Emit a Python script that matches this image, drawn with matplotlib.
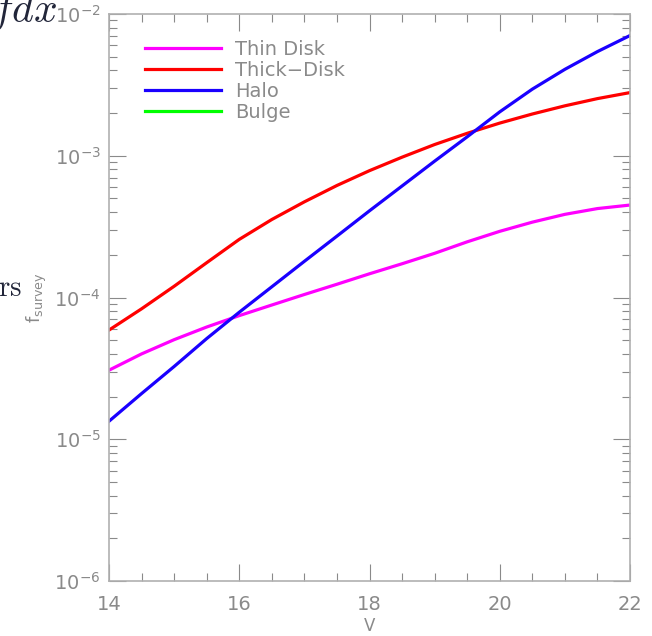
import numpy as np
import matplotlib.pyplot as plt
from matplotlib.ticker import LogLocator, MultipleLocator, NullFormatter

# 星等与各成分的 f_survey（每 0.5 星等取一点）
V = [14.0, 14.5, 15.0, 15.5, 16.0, 16.5, 17.0, 17.5, 18.0,
     18.5, 19.0, 19.5, 20.0, 20.5, 21.0, 21.5, 22.0]
thin_disk = [3.07e-5, 4.0e-5, 5.04e-5, 6.19e-5, 7.45e-5, 8.85e-5, 1.05e-4, 1.24e-4, 1.47e-4,
             1.73e-4, 2.05e-4, 2.47e-4, 2.93e-4, 3.40e-4, 3.86e-4, 4.24e-4, 4.49e-4]
thick_disk = [5.89e-5, 8.32e-5, 1.20e-4, 1.76e-4, 2.57e-4, 3.55e-4, 4.73e-4, 6.17e-4, 7.85e-4,
              9.77e-4, 1.20e-3, 1.44e-3, 1.70e-3, 1.97e-3, 2.25e-3, 2.53e-3, 2.79e-3]
halo = [1.34e-5, 2.1e-5, 3.26e-5, 5.13e-5, 7.87e-5, 1.19e-4, 1.8e-4, 2.71e-4, 4.09e-4,
        6.12e-4, 9.16e-4, 1.36e-3, 2.04e-3, 2.95e-3, 4.07e-3, 5.43e-3, 7.05e-3]
bulge = []  # 该星等范围内无贡献

grey = '#8a8a8a'
plt.rcParams['font.family'] = ['DejaVu Sans']

fig = plt.figure(figsize=(6.52, 6.36), dpi=100)
ax = fig.add_axes([109 / 652, 1 - 581 / 636, (630 - 109) / 652, (581 - 14) / 636])

ax.plot(V, thin_disk, color='#ff00ff', lw=2.3, label='Thin Disk')
ax.plot(V, thick_disk, color='#ff0000', lw=2.3, label='Thick\u2212Disk')
ax.plot(V, halo, color='#1a00ff', lw=2.3, label='Halo')
ax.plot(V[:len(bulge)], bulge, color='#00ff00', lw=2.3, label='Bulge')

ax.set_yscale('log')
ax.set_xlim(14, 22)
ax.set_ylim(1e-6, 1e-2)

ax.xaxis.set_major_locator(MultipleLocator(2))
ax.xaxis.set_minor_locator(MultipleLocator(0.5))
ax.yaxis.set_major_locator(LogLocator(base=10, numticks=10))
ax.yaxis.set_minor_locator(LogLocator(base=10, subs=np.arange(2, 10), numticks=10))
ax.yaxis.set_minor_formatter(NullFormatter())

ax.tick_params(which='both', direction='in', top=True, right=True,
               color=grey, labelcolor=grey, labelsize=14)
ax.tick_params(which='major', length=12, width=0.8, pad=10)
ax.tick_params(which='minor', length=6, width=0.8)
ax.tick_params(axis='y', which='major', pad=6)
for s in ax.spines.values():
    s.set_color('#b0b0b0')
    s.set_linewidth(1.2)

ax.set_xlabel('V', color=grey, fontsize=12, labelpad=2)
ax.set_ylabel(r'f$_{\mathrm{survey}}$', color=grey, fontsize=13, labelpad=4)

leg = ax.legend(loc='upper left', bbox_to_anchor=(0.035, 0.985), frameon=False,
                fontsize=14, handlelength=3.9, handletextpad=0.75,
                labelspacing=0.1, borderaxespad=0.5, labelcolor=grey)

# 页面上相邻的正文片段
fig.text(-0.014, 1 - 22 / 636, r'$fdx$', fontsize=30, color='#22263a',
         va='baseline', ha='left', math_fontfamily='cm')
fig.text(-0.003, 1 - 296 / 636, r'$\mathrm{rs}$', fontsize=21, color='#22263a',
         va='baseline', ha='left', math_fontfamily='cm')

plt.savefig('out.png', dpi=100)
